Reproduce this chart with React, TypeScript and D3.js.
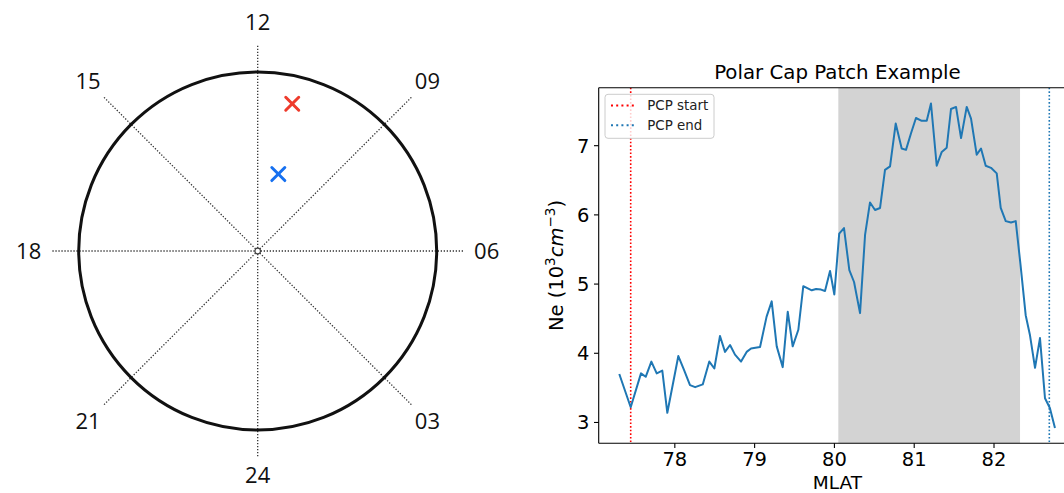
import React from 'react';
import * as d3 from 'd3';

// ---- left panel: MLT clock dial ----
const CLOCK_MLT = [0, 3, 6, 9, 12, 15, 18, 21];
const CLOCK_LABELS = ['24', '03', '06', '09', '12', '15', '18', '21'];
const MARKER_MLT = [11.12, 11.0];
const MARKER_MLAT = [73.1, 81.1];
const MARKER_COLORS = ['#ee3b2c', '#1670f0'];
const DIAL_EDGE_MLAT = 70; // the circle

// ---- right panel: line chart ----
const MLAT = [
  77.304, 77.447, 77.576, 77.635, 77.706, 77.773, 77.843, 77.906, 78.044, 78.115,
  78.19, 78.255, 78.35, 78.432, 78.495, 78.566, 78.629, 78.692, 78.754, 78.83,
  78.9, 78.955, 79.01, 79.068, 79.15, 79.214, 79.277, 79.352, 79.415, 79.477,
  79.548, 79.61, 79.716, 79.77, 79.832, 79.882, 79.945, 79.999, 80.06, 80.12,
  80.187, 80.246, 80.321, 80.384, 80.446, 80.509, 80.572, 80.634, 80.697, 80.768,
  80.843, 80.897, 80.96, 81.022, 81.094, 81.157, 81.21, 81.282, 81.345, 81.407,
  81.461, 81.524, 81.587, 81.658, 81.712, 81.783, 81.837, 81.896, 81.962, 82.034,
  82.084, 82.147, 82.213, 82.272, 82.332, 82.397, 82.451, 82.514, 82.576, 82.639,
  82.7, 82.764,
];
const NE = [
  3.7, 3.22, 3.71, 3.66, 3.88, 3.71, 3.75, 3.14, 3.96, 3.76,
  3.54, 3.51, 3.55, 3.88, 3.78, 4.25, 4.02, 4.12, 3.98, 3.88,
  4.02, 4.07, 4.08, 4.09, 4.53, 4.75, 4.1, 3.8, 4.6, 4.1,
  4.34, 4.97, 4.91, 4.93, 4.92, 4.9, 5.19, 4.85, 5.73, 5.81,
  5.2, 5.03, 4.58, 5.71, 6.18, 6.07, 6.1, 6.65, 6.7, 7.32,
  6.96, 6.94, 7.18, 7.4, 7.36, 7.36, 7.61, 6.71, 6.91, 6.97,
  7.53, 7.56, 7.11, 7.56, 7.39, 6.87, 6.96, 6.71, 6.68, 6.6,
  6.1, 5.91, 5.89, 5.91, 5.28, 4.55, 4.26, 3.79, 4.22, 3.35,
  3.21, 2.92,
];
const X_TICKS = [78, 79, 80, 81, 82];
const Y_TICKS = [3, 4, 5, 6, 7];
const PCP_START = 77.447;
const PCP_END = 82.693;
const PATCH_SPAN = [80.049, 82.326];
const LEGEND_LABELS = ['PCP start', 'PCP end'];
const LEGEND_COLORS = ['red', '#1f77b4'];

const FONT = '"DejaVu Sans", sans-serif';
const HAND = '"Open Sans", Lato, sans-serif';

const Dial = () => {
  const cx = 257.7;
  const cy = 251;
  const r = d3.scaleLinear().domain([90, DIAL_EDGE_MLAT]).range([0, 179]);
  const ang = (mlt: number) => ((mlt - 6) * 15 * Math.PI) / 180;
  const pos = (mlt: number, rad: number) => [cx + rad * Math.cos(ang(mlt)), cy - rad * Math.sin(ang(mlt))];

  return (
    <g>
      {CLOCK_MLT.map((h) => {
        const len = h % 6 === 0 ? 206 : 219;
        const [x, y] = pos(h, len);
        return (
          <line key={'r' + h} x1={cx} y1={cy} x2={x} y2={y} stroke="#333" strokeWidth={1.3} strokeDasharray="1.3,1.7" />
        );
      })}
      <circle cx={cx} cy={cy} r={r(DIAL_EDGE_MLAT)} fill="none" stroke="#111" strokeWidth={3} />
      <circle cx={cx} cy={cy} r={2.8} fill="#fff" stroke="#444" strokeWidth={1.2} />
      {CLOCK_MLT.map((h, i) => {
        // label radius: the bottom one sits a little closer so it stays on the page
        const rad = h === 0 ? 224 : h % 6 === 0 ? 229 : 240;
        const [x, y] = pos(h, rad);
        return (
          <text key={'l' + h} x={x} y={y} dy="0.36em" textAnchor="middle" fontFamily={HAND} fontWeight={400}
            fontSize={22} fill="#111">
            {CLOCK_LABELS[i]}
          </text>
        );
      })}
      {MARKER_MLT.map((m, i) => {
        const [x, y] = pos(m, r(MARKER_MLAT[i]));
        const s = 6.5;
        return (
          <g key={'m' + i} stroke={MARKER_COLORS[i]} strokeWidth={3} strokeLinecap="round">
            <line x1={x - s} y1={y - s} x2={x + s} y2={y + s} />
            <line x1={x - s} y1={y + s} x2={x + s} y2={y - s} />
          </g>
        );
      })}
    </g>
  );
};

const LineChart = () => {
  const left = 598.7;
  const right = 1076.2;
  const top = 87.7;
  const bottom = 443.3;
  const x = d3.scaleLinear().domain([77.046, 83.03]).range([left, right]);
  const y = d3.scaleLinear().domain([2.699, 7.838]).range([bottom, top]);
  const pts = MLAT.map((m, i) => [m, NE[i]] as [number, number]);
  const line = d3.line<[number, number]>().x((d) => x(d[0])).y((d) => y(d[1]));
  const tick = 4.7;

  return (
    <g fontFamily={FONT}>
      <defs>
        <clipPath id="plotArea">
          <rect x={left} y={top} width={right - left} height={bottom - top} />
        </clipPath>
      </defs>
      <g clipPath="url(#plotArea)">
        <rect x={x(PATCH_SPAN[0])} y={top} width={x(PATCH_SPAN[1]) - x(PATCH_SPAN[0])} height={bottom - top}
          fill="#d3d3d3" />
        <line x1={x(PCP_START)} x2={x(PCP_START)} y1={top} y2={bottom} stroke="red" strokeWidth={1.6}
          strokeDasharray="1.6,2" />
        <line x1={x(PCP_END)} x2={x(PCP_END)} y1={top} y2={bottom} stroke="#1f77b4" strokeWidth={1.6}
          strokeDasharray="1.6,2" />
        <path d={line(pts) || ''} fill="none" stroke="#1f77b4" strokeWidth={2} strokeLinejoin="round" />
      </g>

      {/* spines */}
      <g stroke="#000" strokeWidth={1.1} fill="none">
        <line x1={left} x2={left} y1={top} y2={bottom} />
        <line x1={left} x2={right} y1={bottom} y2={bottom} />
        <line x1={left} x2={right} y1={top} y2={top} />
        <line x1={right} x2={right} y1={top} y2={bottom} />
      </g>

      {X_TICKS.map((t) => (
        <g key={'x' + t}>
          <line x1={x(t)} x2={x(t)} y1={bottom} y2={bottom + tick} stroke="#000" strokeWidth={1.1} />
          <text x={x(t)} y={bottom + 23} textAnchor="middle" fontSize={19.5} fill="#000">{t}</text>
        </g>
      ))}
      {Y_TICKS.map((t) => (
        <g key={'y' + t}>
          <line x1={left - tick} x2={left} y1={y(t)} y2={y(t)} stroke="#000" strokeWidth={1.1} />
          <text x={left - 9.4} y={y(t)} dy="0.36em" textAnchor="end" fontSize={19.5} fill="#000">{t}</text>
        </g>
      ))}

      <text x={(left + right) / 2} y={78.5} textAnchor="middle" fontSize={19.8} fill="#000">
        Polar Cap Patch Example
      </text>
      <text x={(left + right) / 2} y={488.5} textAnchor="middle" fontSize={18.5} fill="#000">MLAT</text>
      <text transform={`translate(563,${(top + bottom) / 2}) rotate(-90)`} textAnchor="middle" fontSize={19.5}
        fill="#000">
        Ne (10<tspan fontSize={13.6} dy={-8}>3</tspan>
        <tspan fontStyle="italic" dy={8}>cm</tspan>
        <tspan fontSize={13.6} dy={-8}>−3</tspan>
        <tspan dy={8}>)</tspan>
      </text>

      {/* legend */}
      <g>
        <rect x={605} y={94.3} width={109} height={44} rx={3} fill="#fff" fillOpacity={0.8} stroke="#ccc"
          strokeWidth={1} />
        {LEGEND_LABELS.map((lab, i) => {
          const ly = 105.5 + i * 19.8;
          return (
            <g key={lab}>
              <line x1={611} x2={637} y1={ly} y2={ly} stroke={LEGEND_COLORS[i]} strokeWidth={2}
                strokeDasharray="2,3.2" />
              <text x={647.3} y={ly} dy="0.36em" fontSize={13.4} fill="#222">{lab}</text>
            </g>
          );
        })}
      </g>
    </g>
  );
};

export default function App() {
  return (
    <svg width={1064} height={493} style={{ position: 'absolute', left: 0, top: 0, background: '#fff' }}>
      <rect width={1064} height={493} fill="#fff" />
      <Dial />
      <LineChart />
    </svg>
  );
}
